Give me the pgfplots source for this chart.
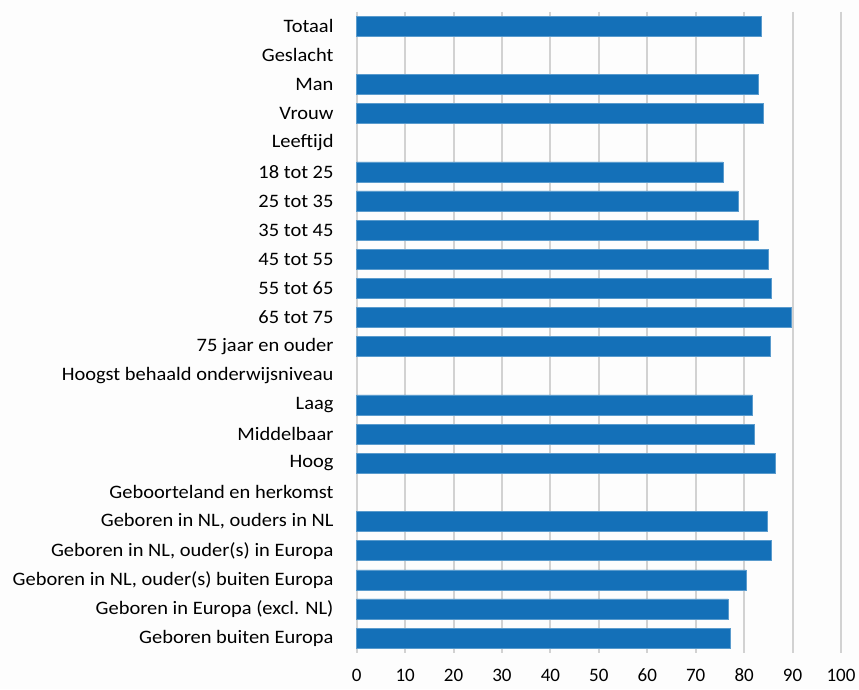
\documentclass[border=0pt]{standalone}
\usepackage{pgfplots}
\pgfplotsset{compat=1.18}
\usepackage{fontspec}
\setmainfont{Carlito}
\newfontfamily\widefont[FakeStretch=1.077]{Carlito}
\definecolor{barblue}{RGB}{20,112,184}
\definecolor{gridgray}{RGB}{210,210,210}
\definecolor{bgcol}{RGB}{253,253,253}
\begin{document}
\begin{tikzpicture}
\useasboundingbox (0,0) rectangle (859pt,689pt);
\fill[bgcol] (0,0) rectangle (859pt,689pt);
\begin{axis}[
  at={(356.7pt,36.4pt)}, anchor=south west,
  scale only axis, width=484.3pt, height=641.1pt,
  xbar, bar width=20pt,
  xmin=0, xmax=100, ymin=-0.5, ymax=21.5, y dir=reverse,
  axis line style={draw=none},
  xtick={0,10,...,100}, ytick={0,...,21},
  yticklabels={Totaal,Geslacht,Man,Vrouw,Leeftijd,18 tot 25,25 tot 35,35 tot 45,45 tot 55,55 tot 65,65 tot 75,75 jaar en ouder,Hoogst behaald onderwijsniveau,Laag,Middelbaar,Hoog,Geboorteland en herkomst,{Geboren in NL, ouders in NL},{Geboren in NL, ouder(s) in Europa},{Geboren in NL, ouder(s) buiten Europa},Geboren in Europa (excl. NL),Geboren buiten Europa},
  major tick length=0pt,
  xmajorgrids, grid style={gridgray, line width=2pt},
  ymajorgrids=false,
  tick label style={font=\fontsize{19}{22}\selectfont, text=black},
  /pgf/number format/assume math mode=true,
  yticklabel style={inner sep=0pt, anchor=east, xshift=-23pt, font=\widefont\fontsize{19}{22}\selectfont},
  xticklabel style={inner sep=0pt, anchor=north, yshift=-16pt},
  clip=false,
]
\addplot[fill=barblue, draw=barblue!70!white, line width=0.5pt] coordinates {
(83.5,0) (82.9,2) (83.9,3) (75.6,5) (78.7,6) (82.9,7) (84.9,8) (85.7,9) (89.8,10) (85.3,11)
(81.7,13) (82.1,14) (86.5,15) (84.7,17) (85.7,18) (80.4,19) (76.7,20) (77.2,21)
};
\end{axis}
\end{tikzpicture}
\end{document}
